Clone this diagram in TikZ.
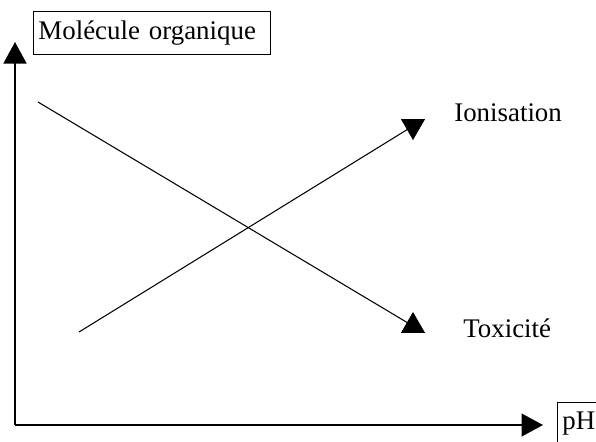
\documentclass[tikz,border=0pt]{standalone}
\usepackage{fontspec}
\setmainfont{Liberation Serif}
\usetikzlibrary{arrows.meta,shapes.geometric}

\begin{document}
\begin{tikzpicture}[x=0.02cm,y=-0.02cm,
        axe/.style={line width=0.8pt,-{Triangle[length=0.43cm,width=0.46cm]}},
        courbe/.style={line width=0.6pt},
        pointe/.style={regular polygon,regular polygon sides=3,fill=black,inner sep=0pt,minimum size=0.55cm},
        cadre/.style={draw,line width=0.5pt,inner xsep=0.1cm,minimum height=0.86cm,align=left},
        texte/.style={font=\fontsize{15.3}{18}\selectfont}]
            \useasboundingbox (0,0) rectangle (596,441);
            % axes
            \coordinate (O) at (15,425);
            \coordinate (ytip) at (15,42);
            \coordinate (xtip) at (543,425);
            \draw[axe] (O)--(ytip);
            \draw[axe] (O)--(xtip);
            \node[cadre,texte,anchor=north west,text width=4.54cm] (mol) at (33,11) {Molécule organique};
            \node[cadre,texte,anchor=north west,text width=0.86cm] (ph) at (557,402) {pH};
            % courbes
            \node[pointe,shape border rotate=180] (ion) at (413,126) {};
            \node[pointe] (tox) at (413,326) {};
            \coordinate (d1) at (38,102);
            \coordinate (c1) at (79,332);
            \draw[courbe] (d1)--(tox.center);
            \draw[courbe] (c1)--(ion.center);
            \node[pointe,shape border rotate=180] at (ion) {};
            \node[pointe] at (tox) {};
            \node[texte,inner sep=0pt,anchor=base west] (lion) at (454,121) {Ionisation};
            \node[texte,inner sep=0pt,anchor=base west] (ltox) at (463,337) {Toxicité};
\end{tikzpicture}
\end{document}
